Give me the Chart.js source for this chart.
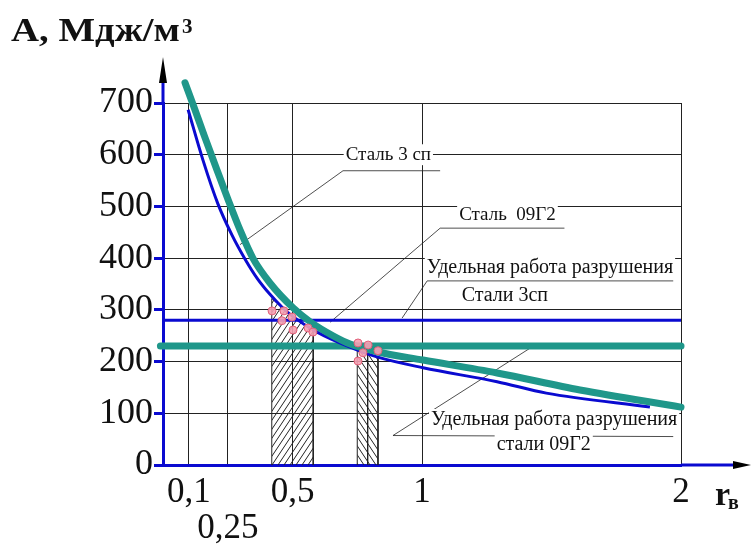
<!DOCTYPE html>
<html lang="ru">
<head>
<meta charset="UTF-8">
<title>Удельная работа разрушения</title>
<script src="https://cdn.jsdelivr.net/npm/chart.js@4.4.1/dist/chart.umd.min.js"></script>
<style>
  body { margin: 0; background: #fff; }
  canvas { display: block; }
</style>
</head>
<body>
<canvas id="chart" width="751" height="547"></canvas>
<script>
// x ticks (r_в) and y range (A, МДж/м3)
var xTicks = [0.1, 0.25, 0.5, 1, 2];
var yTickStep = 100;

// Сталь 3сп (blue curve)
var steel3X = [0.097, 0.154, 0.212, 0.266, 0.317, 0.365, 0.413, 0.46, 0.502, 0.595, 0.722, 0.826, 1.004, 1.29, 1.48, 1.88];
var steel3Y = [687, 590, 505, 445, 398, 360, 330, 305, 287, 257, 228, 209, 188, 161, 139, 112];

// Сталь 09Г2 (teal curve)
var steel09X = [0.085, 0.116, 0.16, 0.208, 0.25, 0.297, 0.347, 0.413, 0.502, 0.568, 0.656, 0.722, 0.826, 1.004, 1.29, 1.61, 2.0];
var steel09Y = [739, 697, 636, 571, 515, 455, 400, 352, 304, 277, 250, 234, 219, 203, 178, 145, 112];

// specific fracture work levels
var limit3X = [0, 2];
var limit3Y = [280, 280];
var limit09X = [-0.01, 2];
var limit09Y = [230, 230];

// hatched zones
var bandAX = [0.42, 0.42, 0.46, 0.50, 0.50];
var bandAY = [0, 322, 305, 287, 0];
var bandBX = [0.50, 0.50, 0.54, 0.58, 0.58];
var bandBY = [0, 287, 273, 262, 0];
var bandCX = [0.75, 0.75, 0.79, 0.79];
var bandCY = [0, 222, 215, 0];
var bandDX = [0.79, 0.79, 0.83, 0.83];
var bandDY = [0, 215, 208, 0];

// intersection marks
var markX = [0.421, 0.467, 0.459, 0.498, 0.502, 0.560, 0.579, 0.753, 0.792, 0.830, 0.772, 0.753];
var markY = [298, 298, 279, 286, 261, 265, 257, 236, 232, 221, 217, 201];

function pts(xs, ys) {
    return xs.map(function (x, i) { return { x: x, y: ys[i] }; });
}

var BLUE = '#0a0ad0';
var TEAL = '#1f978a';
var SERIF = '"Liberation Serif", "Times New Roman", serif';

var canvas = document.getElementById('chart');
var ctx = canvas.getContext('2d');

function hatch(dir) {
    var c = document.createElement('canvas');
    c.width = 6; c.height = 9;
    var g = c.getContext('2d');
    g.strokeStyle = '#222';
    g.lineWidth = 1;
    g.beginPath();
    if (dir > 0) {
        g.moveTo(0, 9); g.lineTo(6, 0);
        g.moveTo(-1, 1.5); g.lineTo(1, -1.5);
        g.moveTo(5, 10.5); g.lineTo(7, 7.5);
    } else {
        g.moveTo(0, 0); g.lineTo(6, 9);
        g.moveTo(-1, 7.5); g.lineTo(1, 10.5);
        g.moveTo(5, -1.5); g.lineTo(7, 1.5);
    }
    g.stroke();
    return ctx.createPattern(c, 'repeat');
}

function band(xs, ys, dir) {
    return {
        data: pts(xs, ys), showLine: true, tension: 0, pointRadius: 0,
        borderColor: '#222', borderWidth: 1, fill: 'origin',
        backgroundColor: hatch(dir), order: 6
    };
}

// labels and leader lines, in data coordinates
var notes = [
    { text: 'Сталь 3 сп', x: 0.87, y: 600, size: 19 },
    { text: 'Сталь  09Г2', x: 1.33, y: 484, size: 19 },
    { text: 'Удельная работа разрушения', x: 1.494, y: 381, size: 20 },
    { text: 'Стали 3сп', x: 1.32, y: 327, size: 20 },
    { text: 'Удельная работа разрушения', x: 1.51, y: 87, size: 20 },
    { text: 'стали 09Г2', x: 1.47, y: 39, size: 20 }
];
var leaders = [
    [0.695, 569, 1.07, 569], [0.695, 569, 0.297, 426],
    [1.07, 458, 1.55, 458], [1.07, 458, 0.645, 276],
    [1.02, 356, 1.97, 356], [1.02, 356, 0.923, 284],
    [0.888, 57, 1.97, 55], [0.888, 57, 1.43, 230]
];

var notesPlugin = {
    id: 'notes',
    beforeDatasetsDraw: function (chart) {
        var c = chart.ctx, sx = chart.scales.x, sy = chart.scales.y;
        c.save();
        c.strokeStyle = '#222';
        c.lineWidth = 0.8;
        leaders.forEach(function (l) {
            c.beginPath();
            c.moveTo(sx.getPixelForValue(l[0]), sy.getPixelForValue(l[1]));
            c.lineTo(sx.getPixelForValue(l[2]), sy.getPixelForValue(l[3]));
            c.stroke();
        });
        c.textAlign = 'center';
        c.textBaseline = 'middle';
        notes.forEach(function (n) {
            c.font = n.size + 'px ' + SERIF;
            var px = sx.getPixelForValue(n.x), py = sy.getPixelForValue(n.y);
            var w = c.measureText(n.text).width;
            c.fillStyle = '#fff';
            c.fillRect(px - w / 2 - 2, py - n.size * 0.55, w + 4, n.size * 1.1);
            c.fillStyle = '#111';
            c.fillText(n.text, px, py);
        });
        c.restore();
    },
    afterDraw: function (chart) {
        var c = chart.ctx, a = chart.chartArea;
        c.save();
        // axis extensions with arrows
        c.strokeStyle = BLUE;
        c.lineWidth = 3;
        c.beginPath();
        c.moveTo(a.left, a.top); c.lineTo(a.left, 80);
        c.moveTo(a.right, a.bottom); c.lineTo(736, a.bottom);
        c.stroke();
        c.fillStyle = '#000';
        c.beginPath();
        c.moveTo(a.left, 57); c.lineTo(a.left - 4, 83); c.lineTo(a.left + 4, 83); c.closePath();
        c.fill();
        c.beginPath();
        c.moveTo(751, a.bottom); c.lineTo(733, a.bottom - 4); c.lineTo(733, a.bottom + 4); c.closePath();
        c.fill();
        // axis titles
        c.fillStyle = '#111';
        c.textBaseline = 'alphabetic';
        c.textAlign = 'left';
        c.font = 'bold 34px ' + SERIF;
        var t = 'А, Мдж/м';
        var w = c.measureText(t).width;
        c.save();
        c.translate(11, 41);
        c.scale(169 / w, 1);
        c.fillText(t, 0, 0);
        c.restore();
        c.font = 'bold 21px ' + SERIF;
        c.fillText('3', 182, 33);
        c.font = 'bold 34px ' + SERIF;
        c.fillText('r', 715, 505);
        c.font = 'bold 20px ' + SERIF;
        c.fillText('в', 728, 509);
        c.restore();
    }
};

new Chart(canvas, {
    type: 'scatter',
    data: {
        datasets: [
            band(bandAX, bandAY, 1),
            band(bandBX, bandBY, 1),
            band(bandCX, bandCY, -1),
            band(bandDX, bandDY, -1),
            {
                label: 'Стали 3сп', data: pts(limit3X, limit3Y), showLine: true,
                borderColor: BLUE, borderWidth: 3, pointRadius: 0, order: 5
            },
            {
                label: 'стали 09Г2', data: pts(limit09X, limit09Y), showLine: true, clip: false,
                borderColor: TEAL, borderWidth: 7, borderCapStyle: 'round', pointRadius: 0, order: 4
            },
            {
                label: 'Сталь 3 сп', data: pts(steel3X, steel3Y), showLine: true,
                cubicInterpolationMode: 'monotone', clip: false,
                borderColor: BLUE, borderWidth: 3, pointRadius: 0, order: 3
            },
            {
                label: 'Сталь 09Г2', data: pts(steel09X, steel09Y), showLine: true,
                cubicInterpolationMode: 'monotone', clip: false,
                borderColor: TEAL, borderWidth: 7, borderCapStyle: 'round', pointRadius: 0, order: 2
            },
            {
                label: 'marks', data: pts(markX, markY), pointRadius: 4,
                backgroundColor: 'rgba(245,160,178,0.9)', borderColor: 'rgba(225,95,120,1)',
                borderWidth: 1, clip: false, order: 1
            }
        ]
    },
    options: {
        responsive: false,
        animation: false,
        layout: { padding: { left: 0, right: 70, top: 103, bottom: 0 } },
        plugins: { legend: { display: false }, tooltip: { enabled: false } },
        scales: {
            x: {
                type: 'linear', min: 0, max: 2,
                afterBuildTicks: function (s) { s.ticks = xTicks.map(function (v) { return { value: v }; }); },
                afterFit: function (s) { s.height = 82; },
                grid: { color: '#222', lineWidth: 1, drawTicks: false },
                border: { color: BLUE, width: 3 },
                ticks: {
                    padding: 9, color: '#111', maxRotation: 0, autoSkip: false,
                    font: { family: SERIF, size: 35, lineHeight: 1.05 },
                    callback: function (v) {
                        var s = String(v).replace('.', ',');
                        return v === 0.25 ? ['', s] : s;
                    }
                }
            },
            y: {
                min: 0, max: 700,
                afterFit: function (s) { s.width = 163; },
                grid: { color: '#222', lineWidth: 1, tickLength: 9, tickColor: BLUE, tickWidth: 3 },
                border: { color: BLUE, width: 3 },
                ticks: {
                    stepSize: yTickStep, padding: 1, color: '#111',
                    font: { family: SERIF, size: 36 }
                }
            }
        }
    },
    plugins: [notesPlugin]
});
</script>
</body>
</html>
